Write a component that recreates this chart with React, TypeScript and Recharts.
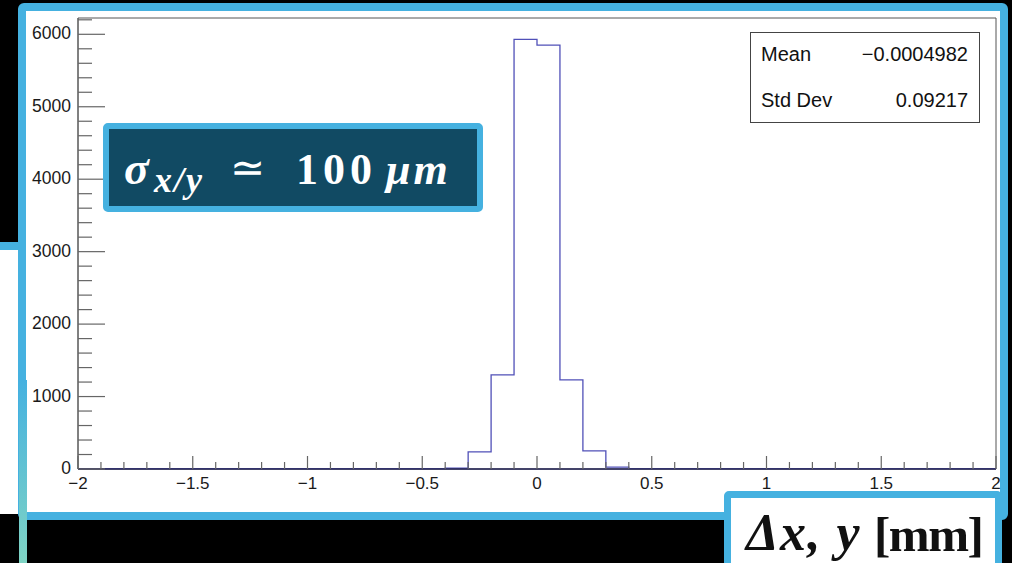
import { ComposedChart, Line, XAxis, YAxis, ReferenceArea } from "recharts";

// histogram binning: 40 bins of 0.1 mm from -2 to 2
const BIN_MIN = -2;
const BIN_WIDTH = 0.1;
const binCounts = [
  0, 0, 0, 0, 0, 0, 0, 0, 0, 0, 0, 0, 0, 0, 0, 0,
  12, 235, 1300, 5930, 5850, 1230, 250, 25,
  0, 0, 0, 0, 0, 0, 0, 0, 0, 0, 0, 0, 0, 0, 0, 0,
];

const xMajorTicks = [-2, -1.5, -1, -0.5, 0, 0.5, 1, 1.5, 2];
const xTickLabels = ["\u22122", "\u22121.5", "\u22121", "\u22120.5", "0", "0.5", "1", "1.5", "2"];
const yMajorTicks = [0, 1000, 2000, 3000, 4000, 5000, 6000];
const yTickLabels = ["0", "1000", "2000", "3000", "4000", "5000", "6000"];
const Y_MAX = 6225;

const statsRows = [
  { name: "Mean", value: "\u22120.0004982" },
  { name: "Std Dev", value: "0.09217" },
];

const BLUE = "#45b1e0";
const NAVY = "#114a63";
const SANS = "'Liberation Sans', Arial, Helvetica, sans-serif";
const SERIF = "'Liberation Serif', 'Times New Roman', serif";

const round = (v: number) => Math.round(v * 1000) / 1000;

// step outline: one point per bin low edge, plus the closing edge at x = 2
const histData = [
  ...binCounts.map((count, i) => ({ x: round(BIN_MIN + i * BIN_WIDTH), count })),
  { x: round(BIN_MIN + binCounts.length * BIN_WIDTH), count: binCounts[binCounts.length - 1] },
];

// 4 minor ticks between majors on both axes
const xAllTicks: number[] = [];
for (let i = 0; i < xMajorTicks.length - 1; i++) {
  const step = (xMajorTicks[i + 1] - xMajorTicks[i]) / 5;
  for (let k = 0; k < 5; k++) xAllTicks.push(round(xMajorTicks[i] + k * step));
}
xAllTicks.push(xMajorTicks[xMajorTicks.length - 1]);

const yAllTicks: number[] = [];
for (let i = 0; i < yMajorTicks.length; i++) {
  for (let k = 0; k < 5; k++) {
    const v = yMajorTicks[i] + k * 200;
    if (v < Y_MAX) yAllTicks.push(v);
  }
}

const findMajor = (list: number[], v: number) => list.findIndex((m) => Math.abs(m - v) < 1e-6);

const XTick = (props: any) => {
  const { x, y, payload } = props;
  const idx = findMajor(xMajorTicks, payload.value);
  const major = idx >= 0;
  return (
    <g>
      <line x1={x} x2={x} y1={y} y2={y - (major ? 13 : 7)} stroke="#666" strokeWidth={1.2} />
      {major ? (
        <text x={x} y={y + 20} textAnchor="middle" fontSize={17} fill="#1a1a1a" fontFamily={SANS}>
          {xTickLabels[idx]}
        </text>
      ) : null}
    </g>
  );
};

const YTick = (props: any) => {
  const { x, y, payload } = props;
  const idx = findMajor(yMajorTicks, payload.value);
  const major = idx >= 0;
  return (
    <g>
      <line x1={x} x2={x + (major ? 27 : 14)} y1={y} y2={y} stroke="#666" strokeWidth={1.2} />
      {major ? (
        <text x={x - 7} y={y + 5} textAnchor="end" fontSize={17.5} fill="#1a1a1a" fontFamily={SANS}>
          {yTickLabels[idx]}
        </text>
      ) : null}
    </g>
  );
};

// a run of text whose baseline sits at `base`
const Piece = ({ left, base, size, children, style }: any) => (
  <div
    style={{
      position: "absolute", left, top: base - size, height: size, lineHeight: `${size}px`,
      whiteSpace: "nowrap", display: "flex", alignItems: "baseline", fontSize: size,
      ...style,
    }}
  >
    <span style={{ display: "inline-block", lineHeight: 1, transform: `translateY(${size * 0.22}px)` }}>{children}</span>
  </div>
);

export default function App() {
  const calloutText = { fontFamily: SERIF, fontWeight: 700, color: "#fff" };
  const unitText = { fontFamily: SERIF, fontWeight: 700, color: "#111" };
  return (
    <div style={{ position: "absolute", left: 0, top: 0, width: 1012, height: 563, background: "#000", overflow: "hidden" }}>
      {/* panel peeking in from the left */}
      <div
        style={{
          position: "absolute", left: -60, top: 242, width: 90, height: 272,
          background: "#fff", borderTop: `8px solid ${BLUE}`, boxSizing: "border-box",
        }}
      />
      {/* main white slide panel */}
      <div
        style={{
          position: "absolute", left: 18, top: 3, width: 990, height: 517,
          background: "#fff", border: `8px solid ${BLUE}`, borderRadius: 6, boxSizing: "border-box",
        }}
      />
      {/* left edge running off the bottom */}
      <div
        style={{
          position: "absolute", left: 19, top: 380, width: 8, height: 183,
          background: `linear-gradient(${BLUE}, #7fd4c4)`,
        }}
      />

      <div style={{ position: "absolute", left: 0, top: 0 }}>
        <ComposedChart width={1012} height={563} data={histData} margin={{ top: 18, right: 16, bottom: 0, left: 0 }}>
          <XAxis
            dataKey="x"
            type="number"
            domain={[-2, 2]}
            ticks={xAllTicks}
            interval={0}
            tickSize={0}
            tickMargin={0}
            height={94}
            axisLine={{ stroke: "#222255", strokeWidth: 1.5 }}
            tickLine={false}
            tick={<XTick />}
            allowDataOverflow
          />
          <YAxis
            type="number"
            domain={[0, Y_MAX]}
            ticks={yAllTicks}
            interval={0}
            tickSize={0}
            tickMargin={0}
            width={78}
            axisLine={{ stroke: "#666", strokeWidth: 1.2 }}
            tickLine={false}
            tick={<YTick />}
            allowDataOverflow
          />
          <ReferenceArea x1={-2} x2={2} y1={0} y2={Y_MAX} fill="none" stroke="#555" strokeWidth={1} />
          <Line
            dataKey="count"
            type="stepAfter"
            stroke="#5050b8"
            strokeWidth={1.3}
            dot={false}
            activeDot={false}
            isAnimationActive={false}
          />
        </ComposedChart>
      </div>

      {/* ROOT stats box */}
      <div
        style={{
          position: "absolute", left: 750, top: 32, width: 230, height: 91,
          background: "#fff", border: "1px solid #444", boxSizing: "border-box",
          fontFamily: SANS, fontSize: 20, color: "#111",
        }}
      >
        {statsRows.map((row, i) => (
          <div
            key={row.name}
            style={{
              position: "absolute", left: 10, right: 11, top: 9 + i * 46, lineHeight: "24px",
              display: "flex", justifyContent: "space-between",
            }}
          >
            <span>{row.name}</span>
            <span>{row.value}</span>
          </div>
        ))}
      </div>

      {/* resolution callout */}
      <div
        style={{
          position: "absolute", left: 103, top: 123, width: 380, height: 89,
          background: NAVY, border: `6px solid ${BLUE}`, borderRadius: 5, boxSizing: "border-box",
        }}
      />
      <Piece left={124} base={182} size={46} style={{ ...calloutText, fontStyle: "italic" }}>σ</Piece>
      <Piece left={154} base={190} size={36} style={{ ...calloutText, fontStyle: "italic", letterSpacing: 2 }}>x/y</Piece>
      <Piece left={230} base={180} size={42} style={{ ...calloutText, fontWeight: 400 }}>≃</Piece>
      <Piece left={296} base={182} size={44} style={{ ...calloutText, letterSpacing: 5 }}>100</Piece>
      <Piece left={386} base={182} size={44} style={{ ...calloutText, fontStyle: "italic", letterSpacing: 3 }}>μm</Piece>

      {/* axis unit label */}
      <div
        style={{
          position: "absolute", left: 724, top: 491, width: 278, height: 90,
          background: "#fff", border: `7px solid ${BLUE}`, borderRadius: 5, boxSizing: "border-box",
        }}
      />
      <Piece left={746} base={548} size={52} style={{ ...unitText, fontStyle: "italic", letterSpacing: 1.5 }}>Δx, y</Piece>
      <Piece left={874} base={548} size={49} style={{ ...unitText, letterSpacing: -1.5 }}>[mm]</Piece>
    </div>
  );
}
